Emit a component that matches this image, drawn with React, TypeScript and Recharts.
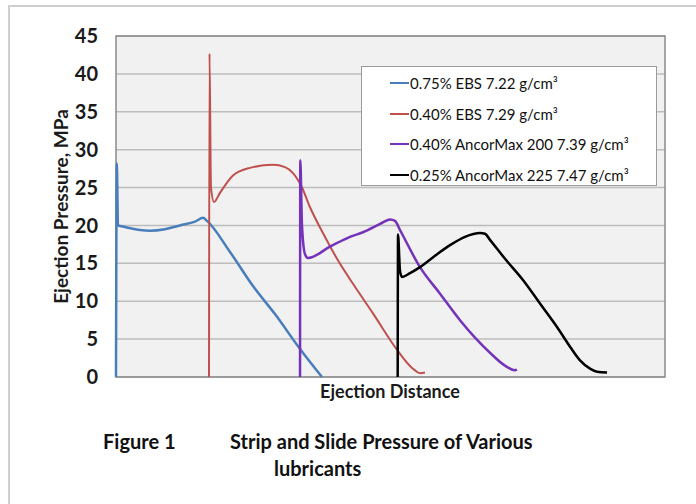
import React from "react";
import {
  LineChart,
  Line,
  XAxis,
  YAxis,
  CartesianGrid,
  Legend,
  ReferenceArea,
  Label,
} from "recharts";

// Ejection distance is unitless (0-100 across the plot); pressure in MPa
const ebs075 = [
  { x: 0.0, y: 0 }, { x: 0.15, y: 28.2 }, { x: 0.36, y: 20.0 }, { x: 1.64, y: 19.8 },
  { x: 4.37, y: 19.4 }, { x: 6.19, y: 19.3 }, { x: 8.93, y: 19.5 }, { x: 11.66, y: 20.0 },
  { x: 14.39, y: 20.5 }, { x: 15.85, y: 21.0 }, { x: 16.58, y: 20.6 }, { x: 20.77, y: 16.5 },
  { x: 24.95, y: 12.0 }, { x: 28.96, y: 8.3 }, { x: 33.52, y: 3.7 }, { x: 37.52, y: 0 },
];

const ebs040 = [
  { x: 16.94, y: 0 }, { x: 17.03, y: 42.7 }, { x: 17.3, y: 25.0 }, { x: 17.85, y: 23.1 },
  { x: 18.94, y: 24.3 }, { x: 21.31, y: 26.6 }, { x: 24.41, y: 27.6 }, { x: 28.6, y: 28.0 },
  { x: 30.78, y: 27.7 }, { x: 32.24, y: 26.9 }, { x: 33.88, y: 25.0 }, { x: 35.34, y: 22.4 },
  { x: 37.7, y: 19.0 }, { x: 40.26, y: 15.6 }, { x: 43.17, y: 12.3 }, { x: 46.81, y: 8.4 },
  { x: 51.18, y: 3.6 }, { x: 53.92, y: 1.2 }, { x: 55.37, y: 0.5 }, { x: 56.28, y: 0.6 },
];

const ancor200 = [
  { x: 33.52, y: 0 }, { x: 33.57, y: 28.6 }, { x: 33.88, y: 20.0 }, { x: 34.43, y: 16.2 },
  { x: 34.97, y: 15.7 }, { x: 38.98, y: 17.2 }, { x: 42.62, y: 18.5 }, { x: 44.99, y: 19.1 },
  { x: 48.09, y: 20.2 }, { x: 49.91, y: 20.8 }, { x: 50.82, y: 20.6 }, { x: 51.73, y: 19.4 },
  { x: 55.37, y: 14.5 }, { x: 59.02, y: 11.0 }, { x: 62.66, y: 7.5 }, { x: 65.39, y: 5.2 },
  { x: 68.12, y: 3.2 }, { x: 70.86, y: 1.5 }, { x: 72.68, y: 0.9 }, { x: 73.0, y: 1.0 },
];

const ancor225 = [
  { x: 51.31, y: 0 }, { x: 51.37, y: 18.8 }, { x: 51.73, y: 14.0 }, { x: 52.09, y: 13.2 },
  { x: 53.55, y: 13.7 }, { x: 55.37, y: 14.5 }, { x: 58.11, y: 16.0 }, { x: 60.84, y: 17.4 },
  { x: 63.57, y: 18.5 }, { x: 66.3, y: 19.0 }, { x: 67.21, y: 18.9 }, { x: 68.12, y: 18.1 },
  { x: 70.86, y: 15.6 }, { x: 74.13, y: 12.8 }, { x: 77.23, y: 9.7 }, { x: 80.33, y: 6.6 },
  { x: 82.7, y: 4.0 }, { x: 84.52, y: 2.2 }, { x: 86.34, y: 1.1 }, { x: 87.61, y: 0.7 },
  { x: 89.44, y: 0.6 },
];

const seriesNames = [
  "0.75% EBS 7.22 g/cm³",
  "0.40% EBS 7.29 g/cm³",
  "0.40% AncorMax 200 7.39 g/cm³",
  "0.25% AncorMax 225 7.47 g/cm³",
];
const yTicks = [0, 5, 10, 15, 20, 25, 30, 35, 40, 45];
const yLabel = "Ejection Pressure, MPa";
const xLabel = "Ejection Distance";
const captionNumber = "Figure 1";
const captionLine1 = "Strip and Slide Pressure of Various";
const captionLine2 = "lubricants";

const FONT = "Lato, 'Open Sans', sans-serif";

const LegendBox = (props: any) => {
  const payload = [...(props.payload || [])].sort(
    (a: any, b: any) => seriesNames.indexOf(a.value) - seriesNames.indexOf(b.value)
  );
  return (
    <div
      style={{
        width: 296,
        height: 120,
        background: "#ffffff",
        border: "1px solid #9a9a9a",
        boxSizing: "border-box",
        paddingTop: 1,
        fontFamily: FONT,
        fontSize: 15,
        color: "#111",
      }}
    >
      {payload.map((p: any, i: number) => (
        <div
          key={i}
          style={{ display: "flex", alignItems: "center", height: 30.5, paddingLeft: 28 }}
        >
          <span
            style={{
              display: "inline-block",
              width: 19,
              height: 2,
              background: p.color,
              marginRight: 1,
            }}
          />
          <span>{p.value}</span>
        </div>
      ))}
    </div>
  );
};

const captionStyle: React.CSSProperties = {
  position: "absolute",
  whiteSpace: "nowrap",
  fontFamily: FONT,
  fontSize: 20,
  fontWeight: 700,
  color: "#111",
};

export default function App() {
  return (
    <div
      style={{
        position: "absolute",
        left: 0,
        top: 0,
        width: 696,
        height: 504,
        background: "#ffffff",
        overflow: "hidden",
      }}
    >
      <div
        style={{
          position: "absolute",
          left: 8,
          top: 5,
          width: 688,
          height: 499,
          borderTop: "2px solid #cfcfcf",
          borderLeft: "2px solid #cfcfcf",
          boxSizing: "border-box",
        }}
      />
      <div style={{ position: "absolute", left: 0, top: 0 }}>
        <LineChart
          width={696}
          height={504}
          margin={{ top: 36, right: 31, bottom: 127, left: 60 }}
        >
          <CartesianGrid
            vertical={false}
            stroke="#bdbdbd"
            strokeWidth={1.5}
            fill="#f1f1f1"
          />
          <XAxis type="number" dataKey="x" domain={[0, 100]} hide />
          <YAxis
            type="number"
            dataKey="y"
            domain={[0, 45]}
            ticks={yTicks}
            width={56}
            axisLine={false}
            tickLine={false}
            tickSize={0}
            tickMargin={18}
            tick={{ fontFamily: FONT, fontSize: 20, fontWeight: 700, fill: "#1a1a1a" }}
          >
            <Label
              value={yLabel}
              angle={-90}
              position="insideLeft"
              offset={1}
              style={{
                fontFamily: FONT,
                fontSize: 19,
                fontWeight: 700,
                fill: "#1a1a1a",
                textAnchor: "middle",
              }}
            />
          </YAxis>
          <ReferenceArea
            x1={0}
            x2={100}
            y1={0}
            y2={45}
            fill="none"
            stroke="#8a8a8a"
            strokeWidth={1.5}
          />
          <Legend
            layout="vertical"
            align="center"
            verticalAlign="middle"
            wrapperStyle={{ position: "absolute", left: 361, top: 66, width: 296 }}
            content={<LegendBox />}
          />
          <Line
            data={ebs075}
            dataKey="y"
            name={seriesNames[0]}
            type="monotoneX"
            stroke="#4a7ebb"
            strokeWidth={2.5}
            dot={false}
            isAnimationActive={false}
          />
          <Line
            data={ebs040}
            dataKey="y"
            name={seriesNames[1]}
            type="monotoneX"
            stroke="#c0504d"
            strokeWidth={2}
            dot={false}
            isAnimationActive={false}
          />
          <Line
            data={ancor200}
            dataKey="y"
            name={seriesNames[2]}
            type="monotoneX"
            stroke="#7433b8"
            strokeWidth={2.5}
            dot={false}
            isAnimationActive={false}
          />
          <Line
            data={ancor225}
            dataKey="y"
            name={seriesNames[3]}
            type="monotoneX"
            stroke="#000000"
            strokeWidth={2.5}
            dot={false}
            isAnimationActive={false}
          />
        </LineChart>
      </div>
      <div
        style={{
          position: "absolute",
          left: 290,
          top: 380,
          width: 200,
          textAlign: "center",
          whiteSpace: "nowrap",
          fontFamily: FONT,
          fontSize: 18,
          fontWeight: 700,
          color: "#1a1a1a",
        }}
      >
        {xLabel}
      </div>
      <div style={{ ...captionStyle, left: 103, top: 429 }}>{captionNumber}</div>
      <div style={{ ...captionStyle, left: 230, top: 429 }}>{captionLine1}</div>
      <div style={{ ...captionStyle, left: 274, top: 456 }}>{captionLine2}</div>
    </div>
  );
}
